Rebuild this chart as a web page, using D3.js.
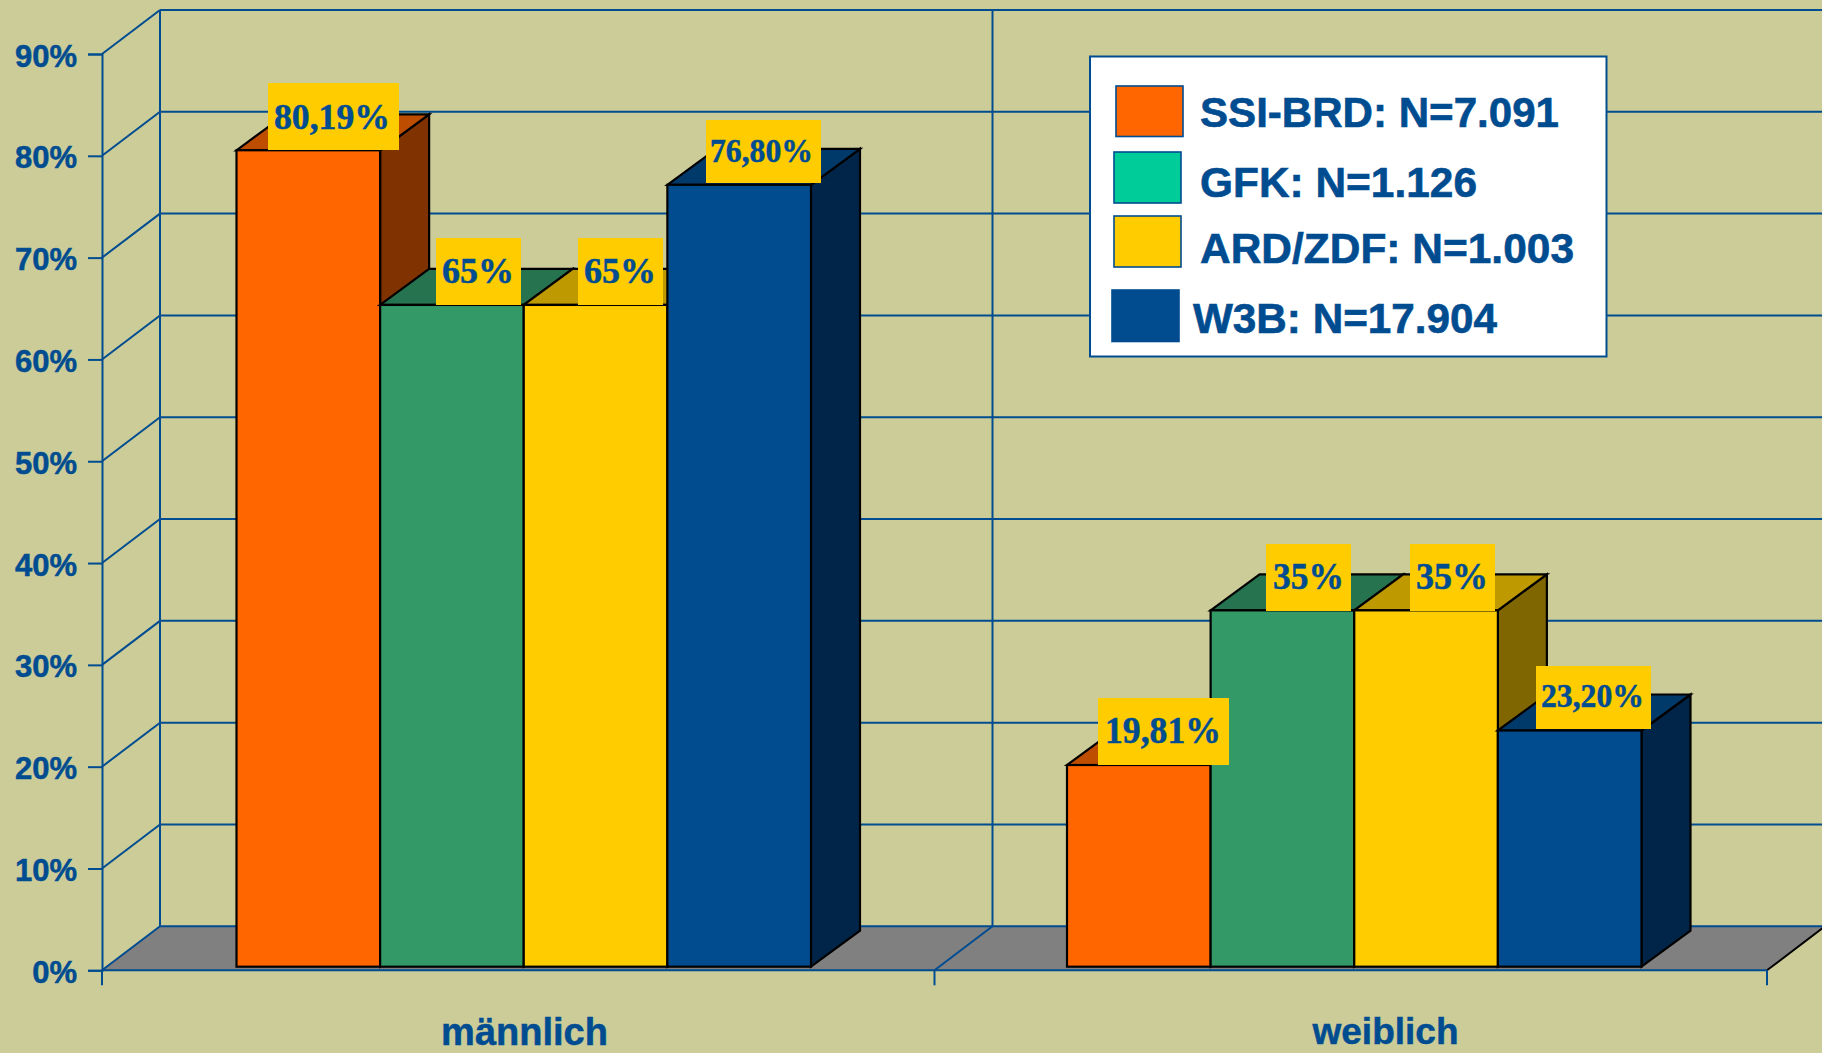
<!DOCTYPE html>
<html><head><meta charset="utf-8">
<script src="https://cdn.jsdelivr.net/npm/d3@7/dist/d3.min.js"></script>
<style>html,body{margin:0;padding:0;background:#CCCC99;overflow:hidden}svg{display:block}</style>
</head><body><svg id="c" width="1822" height="1053"></svg>
<script>
// ---- data ----
const categories = ["männlich", "weiblich"];
const seriesNames = ["SSI-BRD", "GFK", "ARD/ZDF", "W3B"];
const maleValues = [80.19, 65, 65, 76.8];
const femaleValues = [19.81, 35, 35, 23.2];
const maleLabels = ["80,19%", "65%", "65%", "76,80%"];
const femaleLabels = ["19,81%", "35%", "35%", "23,20%"];
const legendTexts = ["SSI-BRD: N=7.091", "GFK: N=1.126", "ARD/ZDF: N=1.003", "W3B: N=17.904"];
const yTicks = [0, 10, 20, 30, 40, 50, 60, 70, 80, 90];

// ---- styles / layout ----
const BG = "#CCCC99", BLUE = "#004C90", GRAY = "#808080";
const front = ["#FF6600", "#339966", "#FFCC00", "#004C8F"];
const topC = ["#BF4D00", "#267350", "#BF9900", "#003A6B"];
const sideC = ["#803300", "#1A4D33", "#806600", "#002548"];
const legendFill = ["#FF6600", "#00CC99", "#FFCC00", "#004C8F"];
const LABEL_YELLOW = "#FFCC00";
const SANS = "'Liberation Sans', Arial, sans-serif", SERIF = "'Liberation Serif', 'Times New Roman', serif";
const wall = {dx: 58, dy: -44}, bar = {dx: 49, dy: -36};

const svg = d3.select("#c");
const y = d3.scaleLinear().domain([0, 90]).range([970.3, 54]);
const yBar = d3.scaleLinear().domain([0, 90]).range([966.7, 50.4]);
const xCat = d3.scaleBand().domain(categories).range([102, 1767]);
const groupStart = d3.scaleOrdinal().domain(categories).range([236.5, 1067]);
const xSeries = d3.scaleBand().domain(seriesNames).range([0, 574.5]);
const poly = pts => pts.map(p => p.join(",")).join(" ");

svg.append("rect").attr("width", 1822).attr("height", 1053).attr("fill", BG);

// floor
const x0 = xCat.range()[0], x1 = xCat.range()[1];
svg.append("polygon").attr("fill", GRAY)
  .attr("points", poly([[x0, y(0)], [x1, y(0)], [x1 + wall.dx, y(0) + wall.dy], [x0 + wall.dx, y(0) + wall.dy]]));

// grid
const grid = svg.append("g").attr("stroke", BLUE).attr("stroke-width", 2).attr("fill", "none");
grid.selectAll(".h").data(yTicks).join("line")
  .attr("x1", x0 + wall.dx).attr("x2", 1822)
  .attr("y1", d => y(d) + wall.dy).attr("y2", d => y(d) + wall.dy);
grid.selectAll(".d").data(yTicks).join("line")
  .attr("x1", x0).attr("x2", x0 + wall.dx)
  .attr("y1", d => y(d)).attr("y2", d => y(d) + wall.dy);
const bounds = categories.map(c => xCat(c));
grid.selectAll(".v").data(bounds).join("line")
  .attr("x1", d => d + wall.dx).attr("x2", d => d + wall.dx)
  .attr("y1", y(90) + wall.dy).attr("y2", y(0) + wall.dy);
grid.append("line").attr("x1", bounds[1]).attr("x2", bounds[1] + wall.dx)
  .attr("y1", y(0)).attr("y2", y(0) + wall.dy);
svg.append("line").attr("stroke", "#000").attr("stroke-width", 2)
  .attr("x1", x1).attr("x2", x1 + wall.dx).attr("y1", y(0)).attr("y2", y(0) + wall.dy);

// y axis
const yAxis = d3.axisLeft(y).tickValues(yTicks).tickFormat(d => d + "%").tickSize(14).tickPadding(11);
const yg = svg.append("g").attr("transform", `translate(${x0},0)`).call(yAxis);
yg.selectAll("path,line").attr("stroke", BLUE).attr("stroke-width", 2);
yg.selectAll("text").attr("fill", BLUE).attr("stroke", BLUE).attr("stroke-width", 0.5).attr("dy", "0.39em")
  .style("font", `bold 31px ${SANS}`);

// x axis line and ticks
const xg = svg.append("g").attr("stroke", BLUE).attr("stroke-width", 2);
xg.append("line").attr("x1", x0).attr("x2", x1).attr("y1", y(0)).attr("y2", y(0));
xg.selectAll(".t").data([...bounds, x1]).join("line")
  .attr("x1", d => d).attr("x2", d => d).attr("y1", y(0)).attr("y2", y(0) + 15);

// bars
const dataset = categories.map((c, i) => ({c, values: i ? femaleValues : maleValues}));
const barsG = svg.append("g").attr("stroke", "#000").attr("stroke-width", 2.2).attr("stroke-linejoin", "miter");
dataset.forEach(g => {
  seriesNames.forEach((s, i) => {
    const L = groupStart(g.c) + xSeries(s), R = L + xSeries.bandwidth();
    const T = yBar(g.values[i]), B = yBar(0);
    barsG.append("polygon").attr("fill", sideC[i])
      .attr("points", poly([[R, T], [R + bar.dx, T + bar.dy], [R + bar.dx, B + bar.dy], [R, B]]));
    barsG.append("polygon").attr("fill", topC[i])
      .attr("points", poly([[L, T], [L + bar.dx, T + bar.dy], [R + bar.dx, T + bar.dy], [R, T]]));
    barsG.append("rect").attr("fill", front[i])
      .attr("x", L).attr("y", T).attr("width", R - L).attr("height", B - T);
  });
});

// value labels: box [x0,x1,y0,y1], text start, baseline, font size, target width
const labelLayout = [
  [[268, 399, 83, 150], 274, 129, 36, 116],
  [[436, 521, 238, 305], 442, 283, 36, 72],
  [[578, 663, 238, 305], 584, 283, 36, 72],
  [[706, 821, 120, 183], 710, 162, 33, 103],
  [[1098, 1229, 698, 765], 1105, 743, 37, 116],
  [[1266, 1351, 544, 611], 1273, 589, 37, 71],
  [[1410, 1495, 544, 611], 1416, 589, 37, 72],
  [[1536, 1651, 666, 729], 1541, 707, 33, 103]
];
const allLabels = [...maleLabels, ...femaleLabels];
const labG = svg.append("g");
labelLayout.forEach((l, i) => {
  const [b, tx, by, fs, w] = l;
  labG.append("rect").attr("x", b[0]).attr("y", b[2]).attr("width", b[1] - b[0]).attr("height", b[3] - b[2]).attr("fill", LABEL_YELLOW);
  labG.append("text").attr("x", tx).attr("y", by).attr("fill", BLUE).attr("stroke", BLUE).attr("stroke-width", 0.5)
    .attr("textLength", w).attr("lengthAdjust", "spacingAndGlyphs")
    .style("font", `bold ${fs}px ${SERIF}`).text(allLabels[i]);
});

// category labels
const catLayout = [[524.5, 1044.5, 38], [1385.5, 1044, 37]];
svg.selectAll(".cat").data(categories).join("text")
  .attr("x", (d, i) => catLayout[i][0]).attr("y", (d, i) => catLayout[i][1])
  .attr("text-anchor", "middle").attr("fill", BLUE).attr("stroke", BLUE).attr("stroke-width", 0.5)
  .style("font", (d, i) => `bold ${catLayout[i][2]}px ${SANS}`).text(d => d);

// legend
svg.append("rect").attr("x", 1090).attr("y", 56.5).attr("width", 516.5).attr("height", 300)
  .attr("fill", "#fff").attr("stroke", BLUE).attr("stroke-width", 2);
const swatchLayout = [[1116, 86, 67, 50.5], [1114, 152, 67, 51], [1114, 216, 67, 51], [1112, 290, 67, 51.5]];
const legendTextLayout = [[1200, 127, 359], [1200, 197, 277], [1200, 263, 374], [1193, 333, 304]];
const lg = svg.append("g");
legendFill.forEach((f, i) => {
  const s = swatchLayout[i], t = legendTextLayout[i];
  lg.append("rect").attr("x", s[0]).attr("y", s[1]).attr("width", s[2]).attr("height", s[3])
    .attr("fill", f).attr("stroke", BLUE).attr("stroke-width", 1.6);
  lg.append("text").attr("x", t[0]).attr("y", t[1]).attr("fill", BLUE).attr("stroke", BLUE).attr("stroke-width", 0.6)
    .attr("textLength", t[2]).attr("lengthAdjust", "spacingAndGlyphs")
    .style("font", `bold 42px ${SANS}`).text(legendTexts[i]);
});
</script></body></html>
